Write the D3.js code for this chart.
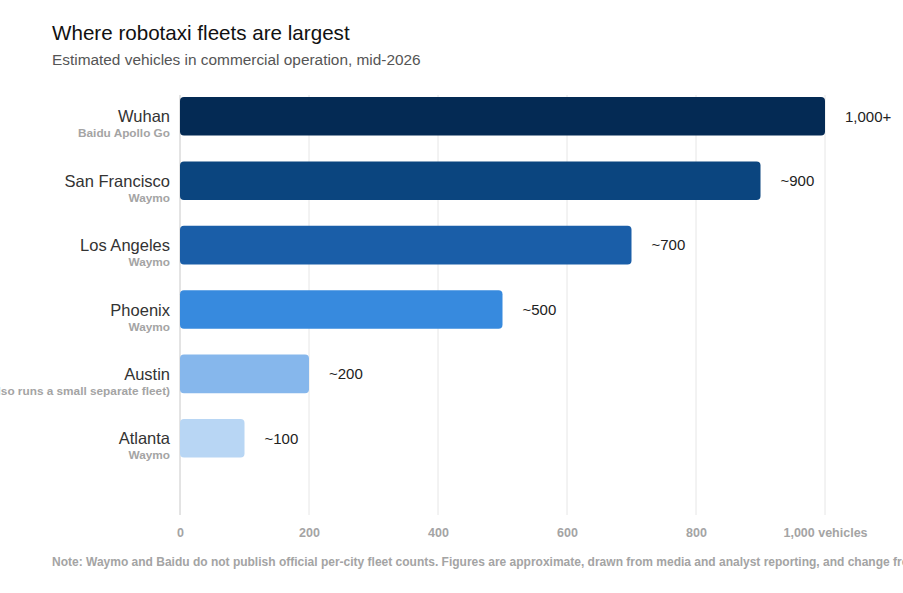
<!DOCTYPE html>
<html>
<head>
<meta charset="utf-8">
<script src="https://cdn.jsdelivr.net/npm/d3@7"></script>
<style>
  body { margin: 0; background: #fff; }
  svg { font-family: "Liberation Sans", Arial, sans-serif; display: block; }
</style>
</head>
<body>
<svg id="chart" width="903" height="593"></svg>
<script>
const cities = ["Wuhan", "San Francisco", "Los Angeles", "Phoenix", "Austin", "Atlanta"];
const operators = ["Baidu Apollo Go", "Waymo", "Waymo", "Waymo", "Waymo (Tesla also runs a small separate fleet)", "Waymo"];
const fleet = [1000, 900, 700, 500, 200, 100];
const valueLabels = ["1,000+", "~900", "~700", "~500", "~200", "~100"];
const barColors = ["#042a54", "#0b457f", "#1a5ea8", "#378ade", "#86b7ec", "#b8d6f4"];
const tickValues = [0, 200, 400, 600, 800, 1000];

const svg = d3.select("#chart");

const x = d3.scaleLinear().domain([0, 1000]).range([180, 825]);
const y = d3.scaleBand()
  .domain(cities)
  .range([84.1, 470.5])
  .paddingInner(0.4)
  .paddingOuter(0.2);

// titles
svg.append("text")
  .attr("x", 52).attr("y", 40)
  .attr("font-size", 20.6).attr("fill", "#111")
  .text("Where robotaxi fleets are largest");
svg.append("text")
  .attr("x", 52).attr("y", 65)
  .attr("font-size", 15.4).attr("fill", "#555")
  .text("Estimated vehicles in commercial operation, mid-2026");

// gridlines
svg.append("g")
  .selectAll("line")
  .data(tickValues)
  .join("line")
  .attr("x1", d => x(d)).attr("x2", d => x(d))
  .attr("y1", 95).attr("y2", 515)
  .attr("stroke", d => d === 0 ? "#c8c8c8" : "#e6e6e6")
  .attr("stroke-width", 1);

// x axis
const xAxis = svg.append("g")
  .attr("transform", "translate(0,515)")
  .call(d3.axisBottom(x)
    .tickValues(tickValues)
    .tickSize(0)
    .tickPadding(13)
    .tickFormat(d => d === 1000 ? "1,000 vehicles" : d3.format(",")(d)));
xAxis.select(".domain").remove();
xAxis.selectAll("text")
  .attr("font-family", "Liberation Sans, Arial, sans-serif")
  .attr("font-size", 12.5)
  .attr("font-weight", "bold")
  .attr("fill", "#a4a4a4");

// bars
svg.append("g")
  .selectAll("rect")
  .data(cities)
  .join("rect")
  .attr("x", x(0))
  .attr("y", d => y(d))
  .attr("width", (d, i) => x(fleet[i]) - x(0))
  .attr("height", y.bandwidth())
  .attr("rx", 4).attr("ry", 4)
  .attr("fill", (d, i) => barColors[i]);

// value labels
svg.append("g")
  .selectAll("text")
  .data(cities)
  .join("text")
  .attr("x", (d, i) => x(fleet[i]) + 20)
  .attr("y", d => y(d) + y.bandwidth() / 2)
  .attr("dy", "0.35em")
  .attr("font-size", 15)
  .attr("fill", "#222")
  .text((d, i) => valueLabels[i]);

// category labels
const labels = svg.append("g")
  .selectAll("g")
  .data(cities)
  .join("g")
  .attr("transform", d => `translate(170,${y(d) + y.bandwidth() / 2})`);
labels.append("text")
  .attr("text-anchor", "end")
  .attr("y", 6)
  .attr("font-size", 16.5)
  .attr("fill", "#333")
  .text(d => d);
labels.append("text")
  .attr("text-anchor", "end")
  .attr("y", 21)
  .attr("font-size", 11.8)
  .attr("font-weight", "bold")
  .attr("fill", "#a4a4a4")
  .text((d, i) => operators[i]);

// footnote
svg.append("text")
  .attr("x", 52).attr("y", 566)
  .attr("font-size", 12)
  .attr("font-weight", "bold")
  .attr("fill", "#a4a4a4")
  .text("Note: Waymo and Baidu do not publish official per-city fleet counts. Figures are approximate, drawn from media and analyst reporting, and change frequently.");
</script>
</body>
</html>
